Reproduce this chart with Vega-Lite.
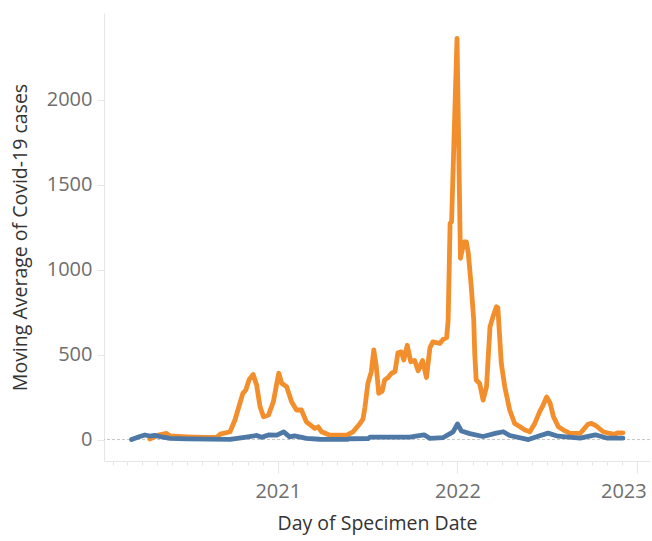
{
  "$schema": "https://vega.github.io/schema/vega-lite/v6.json",
  "autosize": {"type": "none"},
  "padding": {"left": 104, "top": 13, "right": 2, "bottom": 80},
  "width": 546,
  "height": 448,
  "background": "#ffffff",
  "config": {
    "view": {"stroke": null},
    "font": "Open Sans"
  },
  "datasets": {
    "orange": [
      {"date": "2020-04-16", "cases": 3},
      {"date": "2020-05-03", "cases": 26},
      {"date": "2020-05-20", "cases": 36},
      {"date": "2020-05-27", "cases": 21},
      {"date": "2020-06-30", "cases": 16},
      {"date": "2020-08-03", "cases": 13},
      {"date": "2020-08-30", "cases": 13},
      {"date": "2020-09-06", "cases": 32},
      {"date": "2020-09-26", "cases": 46},
      {"date": "2020-10-06", "cases": 115},
      {"date": "2020-10-12", "cases": 174},
      {"date": "2020-10-22", "cases": 272},
      {"date": "2020-10-28", "cases": 291},
      {"date": "2020-11-04", "cases": 354},
      {"date": "2020-11-12", "cases": 383},
      {"date": "2020-11-19", "cases": 321},
      {"date": "2020-11-26", "cases": 193},
      {"date": "2020-12-03", "cases": 134},
      {"date": "2020-12-13", "cases": 144},
      {"date": "2020-12-23", "cases": 222},
      {"date": "2020-12-30", "cases": 331},
      {"date": "2021-01-03", "cases": 390},
      {"date": "2021-01-09", "cases": 331},
      {"date": "2021-01-19", "cases": 311},
      {"date": "2021-01-29", "cases": 222},
      {"date": "2021-02-08", "cases": 174},
      {"date": "2021-02-18", "cases": 174},
      {"date": "2021-02-28", "cases": 105},
      {"date": "2021-03-04", "cases": 95},
      {"date": "2021-03-17", "cases": 66},
      {"date": "2021-03-24", "cases": 75},
      {"date": "2021-03-31", "cases": 46},
      {"date": "2021-04-17", "cases": 26},
      {"date": "2021-05-21", "cases": 26},
      {"date": "2021-06-03", "cases": 46},
      {"date": "2021-06-17", "cases": 95},
      {"date": "2021-06-23", "cases": 120},
      {"date": "2021-06-27", "cases": 190},
      {"date": "2021-07-03", "cases": 330},
      {"date": "2021-07-10", "cases": 400},
      {"date": "2021-07-15", "cases": 528},
      {"date": "2021-07-20", "cases": 430},
      {"date": "2021-07-25", "cases": 272},
      {"date": "2021-08-01", "cases": 285},
      {"date": "2021-08-06", "cases": 350},
      {"date": "2021-08-13", "cases": 365},
      {"date": "2021-08-20", "cases": 390},
      {"date": "2021-08-27", "cases": 400},
      {"date": "2021-09-02", "cases": 510},
      {"date": "2021-09-09", "cases": 516},
      {"date": "2021-09-14", "cases": 468},
      {"date": "2021-09-21", "cases": 555},
      {"date": "2021-09-28", "cases": 458},
      {"date": "2021-10-06", "cases": 465},
      {"date": "2021-10-13", "cases": 405},
      {"date": "2021-10-22", "cases": 465},
      {"date": "2021-10-30", "cases": 365},
      {"date": "2021-11-06", "cases": 540},
      {"date": "2021-11-12", "cases": 575},
      {"date": "2021-11-19", "cases": 570},
      {"date": "2021-11-26", "cases": 566},
      {"date": "2021-12-03", "cases": 590},
      {"date": "2021-12-10", "cases": 600},
      {"date": "2021-12-13", "cases": 700},
      {"date": "2021-12-17", "cases": 1272},
      {"date": "2021-12-20", "cases": 1281},
      {"date": "2021-12-31", "cases": 2360},
      {"date": "2022-01-07", "cases": 1066},
      {"date": "2022-01-14", "cases": 1163},
      {"date": "2022-01-19", "cases": 1163},
      {"date": "2022-01-23", "cases": 1095},
      {"date": "2022-01-29", "cases": 899},
      {"date": "2022-02-03", "cases": 703},
      {"date": "2022-02-05", "cases": 507},
      {"date": "2022-02-08", "cases": 350},
      {"date": "2022-02-15", "cases": 330},
      {"date": "2022-02-22", "cases": 232},
      {"date": "2022-03-01", "cases": 311},
      {"date": "2022-03-08", "cases": 663},
      {"date": "2022-03-14", "cases": 722},
      {"date": "2022-03-21", "cases": 781},
      {"date": "2022-03-24", "cases": 775},
      {"date": "2022-03-31", "cases": 448},
      {"date": "2022-04-07", "cases": 311},
      {"date": "2022-04-17", "cases": 174},
      {"date": "2022-04-27", "cases": 95},
      {"date": "2022-05-08", "cases": 75},
      {"date": "2022-05-18", "cases": 56},
      {"date": "2022-05-28", "cases": 46},
      {"date": "2022-06-07", "cases": 95},
      {"date": "2022-06-17", "cases": 164},
      {"date": "2022-06-24", "cases": 203},
      {"date": "2022-07-01", "cases": 250},
      {"date": "2022-07-08", "cases": 215},
      {"date": "2022-07-15", "cases": 134},
      {"date": "2022-07-25", "cases": 75},
      {"date": "2022-08-04", "cases": 56},
      {"date": "2022-08-18", "cases": 36},
      {"date": "2022-09-07", "cases": 36},
      {"date": "2022-09-13", "cases": 56},
      {"date": "2022-09-23", "cases": 90},
      {"date": "2022-09-30", "cases": 95},
      {"date": "2022-10-10", "cases": 80},
      {"date": "2022-10-24", "cases": 46},
      {"date": "2022-11-06", "cases": 36},
      {"date": "2022-11-16", "cases": 31},
      {"date": "2022-11-23", "cases": 40},
      {"date": "2022-12-03", "cases": 40}
    ],
    "blue": [
      {"date": "2020-03-10", "cases": 0},
      {"date": "2020-03-27", "cases": 18},
      {"date": "2020-04-06", "cases": 27},
      {"date": "2020-04-16", "cases": 21},
      {"date": "2020-04-26", "cases": 25},
      {"date": "2020-05-10", "cases": 16},
      {"date": "2020-05-27", "cases": 7},
      {"date": "2020-06-30", "cases": 4},
      {"date": "2020-09-26", "cases": 1},
      {"date": "2020-10-29", "cases": 15},
      {"date": "2020-11-19", "cases": 24},
      {"date": "2020-11-29", "cases": 13},
      {"date": "2020-12-13", "cases": 27},
      {"date": "2020-12-30", "cases": 26},
      {"date": "2021-01-13", "cases": 45},
      {"date": "2021-01-25", "cases": 16},
      {"date": "2021-02-04", "cases": 22},
      {"date": "2021-02-28", "cases": 7},
      {"date": "2021-03-27", "cases": 2},
      {"date": "2021-05-22", "cases": 1},
      {"date": "2021-05-27", "cases": 5},
      {"date": "2021-07-04", "cases": 6},
      {"date": "2021-07-07", "cases": 14},
      {"date": "2021-08-16", "cases": 15},
      {"date": "2021-09-26", "cases": 15},
      {"date": "2021-10-25", "cases": 28},
      {"date": "2021-11-06", "cases": 7},
      {"date": "2021-12-03", "cases": 12},
      {"date": "2021-12-17", "cases": 35},
      {"date": "2021-12-23", "cases": 45},
      {"date": "2022-01-01", "cases": 92},
      {"date": "2022-01-09", "cases": 50},
      {"date": "2022-01-26", "cases": 35},
      {"date": "2022-02-22", "cases": 18},
      {"date": "2022-03-21", "cases": 38},
      {"date": "2022-04-04", "cases": 46},
      {"date": "2022-04-17", "cases": 24},
      {"date": "2022-05-25", "cases": 0},
      {"date": "2022-06-17", "cases": 22},
      {"date": "2022-07-04", "cases": 38},
      {"date": "2022-07-24", "cases": 20},
      {"date": "2022-09-07", "cases": 8},
      {"date": "2022-10-08", "cases": 28},
      {"date": "2022-10-31", "cases": 9},
      {"date": "2022-12-03", "cases": 8}
    ],
    "zero": [{"y": 0}]
  },
  "layer": [
    {
      "data": {"name": "zero"},
      "mark": {"type": "rule", "color": "#c4c4c4", "strokeWidth": 1, "strokeDash": [3, 2]},
      "encoding": {
        "y": {"field": "y", "type": "quantitative", "scale": {"domain": [-126, 2509], "nice": false, "zero": false}}
      }
    },
    {
      "data": {"name": "orange"},
      "mark": {"type": "line", "color": "#f28e2b", "strokeWidth": 4.8, "strokeCap": "round", "strokeJoin": "round"},
      "encoding": {
        "x": {
          "field": "date",
          "type": "temporal",
          "scale": {"type": "utc", "domain": ["2020-01-14", "2023-01-27"], "nice": false},
          "axis": {
            "title": "Day of Specimen Date",
            "titleFont": "Open Sans",
            "titleFontSize": 19.5,
            "titleFontWeight": "normal",
            "titleColor": "#333333",
            "titlePadding": 13,
            "tickCount": {"interval": "month", "step": 1},
            "labelExpr": "utcmonth(datum.value) === 0 ? utcFormat(datum.value, '%Y') : ''",
            "labelOverlap": false,
            "labelFlush": 15,
            "labelFlushOffset": 9,
            "labelFont": "Open Sans",
            "labelFontSize": 20,
            "labelColor": "#6e6e6e",
            "labelPadding": 8,
            "labelBaseline": "top",
            "domainColor": "#e6e6e6",
            "domainWidth": 1,
            "tickColor": "#e6e6e6",
            "tickSize": {"condition": {"test": "utcmonth(datum.value) === 0", "value": 12}, "value": 4},
            "grid": false
          }
        },
        "y": {
          "field": "cases",
          "type": "quantitative",
          "scale": {"domain": [-126, 2509], "nice": false, "zero": false},
          "axis": {
            "title": "Moving Average of Covid-19 cases",
            "titleFont": "Open Sans",
            "titleFontSize": 19.5,
            "titleFontWeight": "normal",
            "titleColor": "#333333",
            "titlePadding": 16,
            "values": [0, 500, 1000, 1500, 2000],
            "format": "d",
            "labelFont": "Open Sans",
            "labelFontSize": 20,
            "labelColor": "#6e6e6e",
            "labelPadding": 5,
            "domainColor": "#e6e6e6",
            "tickColor": "#e6e6e6",
            "tickSize": 7,
            "grid": false
          }
        }
      }
    },
    {
      "data": {"name": "blue"},
      "mark": {"type": "line", "color": "#4e79a7", "strokeWidth": 4.8, "strokeCap": "round", "strokeJoin": "round"},
      "encoding": {
        "x": {"field": "date", "type": "temporal"},
        "y": {"field": "cases", "type": "quantitative"}
      }
    }
  ]
}
